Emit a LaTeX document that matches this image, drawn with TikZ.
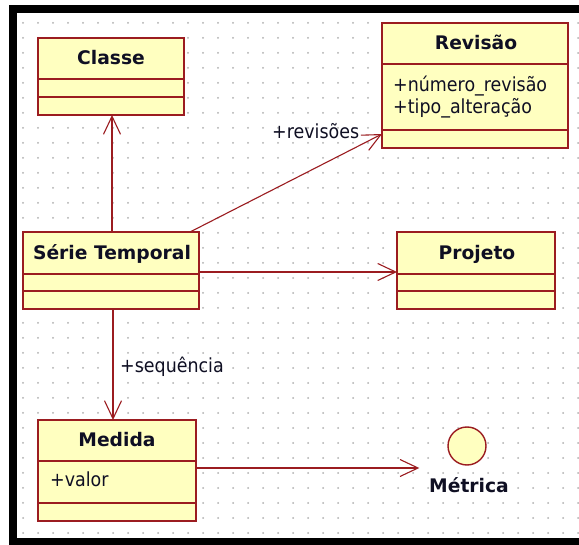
\documentclass[tikz,border=0pt]{standalone}
\usepackage{fontspec}
\setmainfont{DejaVu Sans}
\newfontfamily\attrfont[FakeStretch=0.9]{DejaVu Sans}
\usetikzlibrary{arrows.meta}
\definecolor{classfill}{RGB}{255,255,192}
\definecolor{classline}{RGB}{155,28,32}
\definecolor{gridgray}{RGB}{175,175,175}
\definecolor{textdark}{RGB}{15,15,35}

\begin{document}
\begin{tikzpicture}[x=1pt,y=-1pt,
  classbox/.style={draw=classline, fill=classfill, line width=1.7pt, rectangle,
    inner sep=0pt, outer sep=0pt, anchor=north west},
  divider/.style={draw=classline, line width=1.7pt},
  classname/.style={font=\fontsize{18.7pt}{22pt}\selectfont\bfseries, text=textdark,
    inner sep=0pt, anchor=base},
  attr/.style={font=\attrfont\fontsize{19.4pt}{22pt}\selectfont, text=textdark,
    inner sep=0pt, anchor=base west},
  assoc/.style={draw=classline, line width=1.1pt,
    -{Straight Barb[length=18pt,width=17pt,line width=1.1pt]}},
]
% canvas and bounding box
\fill[white] (0,0) rectangle (579,545);
\useasboundingbox (0,0) rectangle (579,545);

% dotted drawing grid
\foreach \i in {0,...,37}
  \foreach \j in {0,...,34}
    \fill[gridgray] (23+15*\i, 23+15*\j) circle (1pt);

% window frame
\fill[black] (9,5) rectangle (579,13);
\fill[black] (9,5) rectangle (17,545);
\fill[black] (9,538) rectangle (579,545);

% class Classe
\node[classbox, minimum width=146pt, minimum height=77pt] (classe) at (38,38) {};
\draw[divider] (classe.west |- 0,79) -- (classe.east |- 0,79);
\draw[divider] (classe.west |- 0,97) -- (classe.east |- 0,97);
\node[classname] (classe-name) at (111,65) {Classe};

% class Revisão
\node[classbox, minimum width=186pt, minimum height=125pt] (revisao) at (382,23) {};
\draw[divider] (revisao.west |- 0,64) -- (revisao.east |- 0,64);
\draw[divider] (revisao.west |- 0,130) -- (revisao.east |- 0,130);
\node[classname] (revisao-name) at (476,50) {Revisão};
\node[attr] (revisao-a1) at (393,92) {+número\_revisão};
\node[attr] (revisao-a2) at (393,114) {+tipo\_alteração};

% class Série Temporal
\node[classbox, minimum width=176pt, minimum height=77pt] (serie) at (23,232) {};
\draw[divider] (serie.west |- 0,274) -- (serie.east |- 0,274);
\draw[divider] (serie.west |- 0,291) -- (serie.east |- 0,291);
\node[classname] (serie-name) at (112,260) {Série Temporal};

% class Projeto
\node[classbox, minimum width=158pt, minimum height=77pt] (projeto) at (397,232) {};
\draw[divider] (projeto.west |- 0,274) -- (projeto.east |- 0,274);
\draw[divider] (projeto.west |- 0,291) -- (projeto.east |- 0,291);
\node[classname] (projeto-name) at (477,260) {Projeto};

% class Medida
\node[classbox, minimum width=158pt, minimum height=101pt] (medida) at (38,420) {};
\draw[divider] (medida.west |- 0,461) -- (medida.east |- 0,461);
\draw[divider] (medida.west |- 0,503) -- (medida.east |- 0,503);
\node[classname] (medida-name) at (117,447) {Medida};
\node[attr] (medida-a1) at (50,487) {+valor};

% interface Métrica (lollipop)
\node[draw=classline, fill=classfill, circle, minimum size=38pt, line width=1.4pt,
  inner sep=0pt] (metrica) at (467,446) {};
\node[classname] (metrica-name) at (469,493) {Métrica};

% associations
\draw[assoc] (112,0 |- serie.north) -- (112,0 |- classe.south);
\draw[assoc] (190,0 |- serie.north) -- (revisao.west |- 0,134);
\draw[assoc] (serie.east |- 0,272) -- (projeto.west |- 0,272);
\draw[assoc] (113,0 |- serie.south) -- (113,0 |- medida.north);
\draw[assoc, shorten >=28pt] (medida.east |- 0,468) -- (metrica.west |- 0,468);

% role names
\node[attr] (role-revisoes) at (272,139) {+revisões};
\node[attr] (role-sequencia) at (120,373) {+sequência};
\end{tikzpicture}
\end{document}
